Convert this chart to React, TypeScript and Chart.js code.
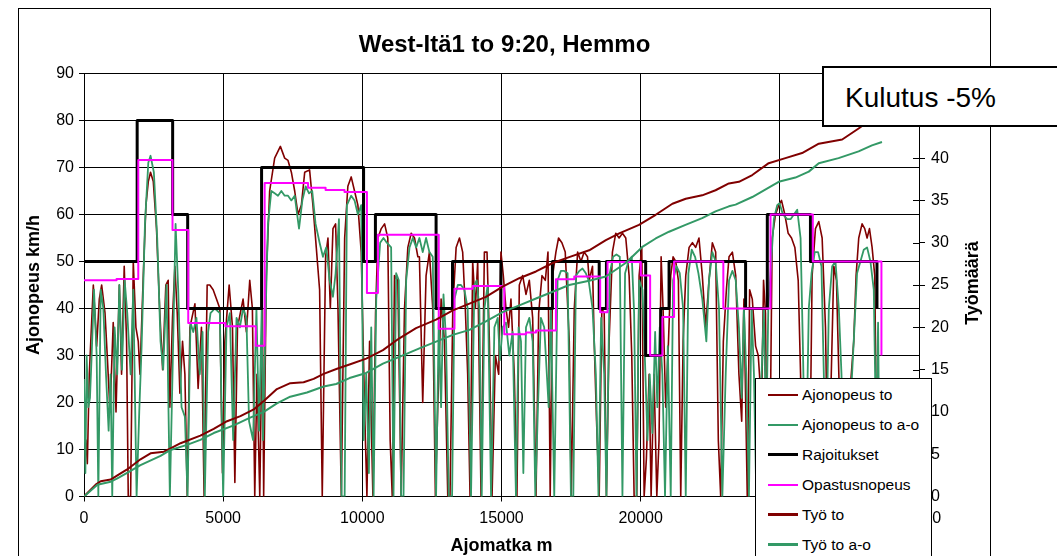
import React, { useEffect, useRef } from 'react';
import { Chart, registerables } from 'chart.js';

Chart.register(...registerables);

const FONT = '"Liberation Sans", Arial, Helvetica, sans-serif';

const chartTitle = 'West-Itä1 to 9:20, Hemmo';
const xTitle = 'Ajomatka m';
const yTitle = 'Ajonopeus km/h';
const y1Title = 'Työmäärä';
const noteText = 'Kulutus -5%';

const xMax = 30000;
const xStep = 5000;
const yMax = 90;
const yStep = 10;
const y1Max = 50;
const y1Step = 5;

const seriesNames = ['Ajonopeus to', 'Ajonopeus to a-o', 'Rajoitukset', 'Opastusnopeus', 'Työ to', 'Työ to a-o'];

// [distance m, speed km/h]
const ajonopeusTo: number[][] = [
  [0, 12], [70, 12], [120, 7], [190, 26], [335, 45], [455, 32], [550, 42], [635, 45], [755, 39], [835, 30], [935, 18],
  [1050, 37], [1150, 18], [1270, 45], [1350, 26], [1445, 49], [1530, 33], [1590, 0], [1675, 0], [1770, 50], [1865, 36],
  [1950, 33], [2010, 26], [2130, 47], [2225, 62], [2310, 67], [2390, 69], [2490, 67], [2605, 57], [2725, 39], [2825, 27],
  [2940, 45], [3025, 46], [3085, 19], [3180, 38], [3265, 49], [3350, 39], [3445, 22], [3540, 33], [3625, 26], [3710, 0],
  [3805, 36], [3985, 41], [4100, 23], [4220, 36], [4315, 0], [4425, 45], [4520, 45], [4640, 44], [4760, 42], [4880, 40],
  [4975, 5], [5060, 33], [5215, 45], [5335, 36], [5420, 3], [5515, 36], [5715, 42], [5835, 35], [5955, 46],
  [6050, 40], [6135, 0], [6215, 26], [6315, 0], [6410, 40], [6455, 0], [6550, 47], [6670, 65], [6850, 72], [7055, 74.5],
  [7210, 72], [7330, 71.5], [7450, 69], [7570, 65], [7690, 60], [7810, 62], [7930, 69], [8105, 69.5], [8225, 62], [8345, 53],
  [8465, 44], [8560, 0], [8680, 51], [8765, 55], [8850, 40], [8945, 57], [9040, 58], [9125, 40], [9245, 0], [9365, 55],
  [9480, 66], [9600, 68], [9720, 65], [9840, 62], [9960, 52], [10080, 19], [10165, 0], [10260, 33], [10380, 0], [10475, 39],
  [10560, 55], [10680, 57], [10800, 58], [10915, 55], [11000, 12], [11075, 0], [11155, 47], [11275, 46], [11395, 0],
  [11515, 40], [11635, 53], [11755, 56], [11875, 55], [11995, 51],
  [12050, 51], [12170, 20], [12290, 47], [12410, 52], [12530, 40], [12625, 0], [12710, 19], [12830, 42], [12950, 33],
  [13070, 0], [13150, 0], [13250, 40], [13370, 53], [13490, 55], [13605, 52], [13700, 40], [13785, 26], [13870, 0],
  [13965, 50], [14060, 40], [14145, 50], [14265, 0], [14385, 52], [14480, 52], [14565, 33], [14660, 0], [14780, 30],
  [14900, 26], [14980, 52], [15065, 47], [15160, 40], [15255, 36], [15340, 42], [15460, 26], [15555, 0], [15640, 45],
  [15760, 47], [15880, 43], [16000, 46], [16120, 38], [16240, 0], [16335, 39], [16455, 47], [16575, 46], [16670, 52],
  [16750, 0], [16835, 47], [16955, 52], [17050, 55], [17170, 54], [17290, 52], [17435, 33], [17505, 0], [17615, 40],
  [17735, 52], [17855, 50], [17970, 52], [18090, 51],
  [18150, 46], [18270, 49], [18330, 33], [18415, 16], [18510, 0], [18605, 40], [18690, 39], [18770, 0], [18865, 33],
  [18985, 52], [19105, 56], [19225, 55], [19345, 56], [19465, 55], [19585, 47], [19680, 30], [19765, 0], [19860, 0],
  [19945, 47], [20040, 53], [20125, 0], [20205, 8], [20305, 26], [20375, 0], [20480, 26], [20580, 0], [20660, 12],
  [20735, 51], [20805, 40], [20900, 19], [21000, 33], [21080, 47], [21165, 51], [21260, 50], [21355, 46], [21440, 0],
  [21525, 33], [21620, 47], [21740, 53], [21860, 54], [21975, 53], [22095, 55], [22215, 47], [22335, 36], [22455, 46],
  [22575, 54], [22695, 52], [22790, 12], [22875, 0], [22970, 33], [23080, 44], [23175, 51], [23295, 52], [23415, 47],
  [23530, 26], [23630, 16], [23710, 42], [23830, 0], [23915, 44], [24010, 42], [24130, 32], [24225, 30],
  [24345, 19], [24415, 46], [24485, 39], [24545, 0], [24630, 0], [24725, 55], [24845, 60], [24965, 62], [25060, 63],
  [25180, 60], [25300, 56], [25420, 55], [25540, 53], [25660, 46], [25745, 26], [25805, 0], [26065, 0], [26160, 47],
  [26280, 57], [26400, 58.5], [26520, 55], [26640, 36], [26735, 0], [26820, 19], [26940, 49], [27035, 46], [27120, 26],
  [27240, 0], [27360, 0], [27480, 19], [27655, 33], [27740, 47], [27835, 55], [27955, 58], [28050, 57], [28135, 55],
  [28220, 57], [28315, 53], [28410, 47], [28495, 0],
];

const ajonopeusToAo: number[][] = [
  [0, 25], [50, 5], [95, 30], [155, 19], [215, 21], [275, 30], [360, 44], [455, 30], [515, 0], [600, 44], [695, 40],
  [790, 26], [885, 14], [955, 26], [1015, 0], [1100, 36], [1195, 26], [1270, 45], [1365, 27], [1460, 46], [1555, 39],
  [1675, 26], [1770, 44], [1890, 0], [1985, 18], [2070, 32], [2190, 58], [2310, 71], [2390, 72.5], [2510, 69], [2630, 55],
  [2750, 33], [2845, 27], [2965, 45], [3085, 0], [3180, 26], [3290, 58], [3385, 44], [3505, 19], [3625, 17], [3720, 0],
  [3825, 37], [3925, 35], [4040, 38], [4160, 26], [4260, 35], [4340, 0], [4460, 35], [4545, 39], [4700, 40], [4880, 39],
  [5000, 0], [5120, 36], [5240, 39], [5360, 12], [5480, 38], [5600, 36], [5715, 40], [5835, 38], [5930, 16],
  [6075, 12], [6195, 40], [6290, 14], [6385, 40], [6430, 12], [6530, 40], [6610, 58], [6730, 65], [6850, 64.5], [6970, 64],
  [7090, 65], [7210, 64], [7330, 64], [7450, 63], [7570, 64], [7725, 57], [7845, 63], [7965, 66], [8085, 64.5], [8200, 65],
  [8320, 58], [8465, 54], [8585, 51], [8705, 53], [8825, 46], [8945, 42.5], [9040, 47.5], [9160, 59], [9255, 0], [9365, 0],
  [9445, 62], [9600, 64], [9720, 63], [9840, 60], [9960, 62], [10045, 12], [10140, 26], [10235, 5], [10320, 36], [10405, 0],
  [10500, 42], [10640, 54], [10760, 55], [10880, 54], [11035, 53], [11120, 0], [11215, 47.5], [11310, 46], [11395, 0],
  [11480, 0], [11575, 46], [11695, 53], [11815, 55], [11935, 53],
  [12050, 55], [12170, 52], [12290, 55], [12410, 52], [12530, 51], [12650, 0], [12745, 37], [12830, 19], [12915, 43],
  [13010, 33], [13105, 0], [13225, 0], [13310, 42], [13430, 45], [13545, 45], [13665, 44], [13785, 40], [13905, 0],
  [14025, 45], [14110, 46], [14205, 40], [14290, 0], [14385, 40], [14505, 45], [14625, 0], [14745, 36], [14865, 38],
  [14945, 29], [15040, 36], [15160, 37], [15280, 30], [15400, 35], [15520, 0], [15615, 36], [15700, 33], [15785, 5],
  [15880, 36], [16000, 38], [16120, 33], [16215, 0], [16310, 19], [16415, 38], [16535, 36], [16695, 19], [16775, 40],
  [16895, 0], [17015, 46], [17135, 48], [17255, 48], [17375, 47.5], [17495, 0], [17580, 0], [17675, 47], [17795, 48],
  [17910, 48.5], [18030, 47.5], [18130, 46],
  [18270, 40], [18390, 26], [18485, 0], [18580, 38], [18690, 26], [18770, 0], [18890, 47.5], [19010, 51], [19130, 51.5],
  [19250, 51], [19345, 0], [19440, 47.5], [19560, 50], [19680, 51], [19765, 39], [19850, 0], [19945, 46], [20065, 44],
  [20160, 28], [20245, 12], [20325, 26], [20420, 13.5], [20520, 35], [20600, 19], [20685, 36], [20780, 26], [20875, 0],
  [20975, 32], [21080, 0], [21165, 46], [21285, 49], [21405, 47.5], [21525, 40], [21620, 0], [21715, 47.5], [21835, 52.5],
  [21955, 51], [22075, 47.5], [22215, 42], [22360, 33], [22455, 46], [22575, 52], [22695, 50], [22815, 40], [22935, 0],
  [23055, 26], [23175, 46], [23295, 48], [23415, 46], [23530, 36], [23630, 21], [23710, 40], [23795, 26], [23890, 0],
  [23985, 40], [24070, 26], [24155, 0],
  [24345, 26], [24425, 40], [24510, 12], [24585, 40], [24665, 47.5], [24785, 59], [24905, 62], [24990, 62.4], [25110, 60],
  [25265, 59], [25385, 59], [25505, 60], [25625, 61], [25745, 55], [25825, 33], [25925, 0], [26040, 40], [26140, 47.5],
  [26255, 52], [26375, 52], [26495, 49], [26580, 26], [26640, 0], [26760, 40], [26880, 49], [27000, 50], [27120, 40],
  [27215, 26], [27300, 0], [27415, 5], [27535, 19], [27655, 33], [27775, 47.5], [27895, 50], [28015, 52.5], [28135, 53],
  [28255, 50], [28375, 44], [28460, 12], [28530, 37], [28590, 0],
];

// step start [distance m, limit km/h]
const rajoitukset: number[][] = [
  [0, 50], [1910, 80], [3185, 60], [3725, 40], [6380, 70], [10045, 50], [10470, 60], [12650, 40], [13240, 50],
  [14980, 40], [16830, 50], [18510, 40], [18770, 50], [20180, 30], [20720, 40], [21020, 50], [23770, 40], [24550, 60],
  [26100, 50], [28490, 40],
];

const opastusnopeus: number[][] = [
  [0, 46], [1170, 46.3], [1950, 71.6], [3180, 56.7], [3745, 36.9], [5080, 36.2], [6170, 32.1], [6490, 66.7],
  [8050, 65.7], [8680, 65.2], [9360, 64.8], [10165, 43.3], [10560, 55.7], [12745, 35.7], [13310, 44.2], [13965, 44.8],
  [15100, 34.5], [15880, 34.9], [16240, 35.3], [16955, 46.2], [17615, 46.8], [18545, 39.2], [18810, 49.9], [20005, 47],
  [20340, 30], [20780, 38.2], [21200, 50], [22970, 40], [24665, 60], [26185, 50], [28650, 30],
];

// [distance m, work]
const tyoTo: number[][] = [
  [0, 0], [420, 1.4], [600, 1.8], [960, 2.0], [1200, 2.5], [1550, 3.2], [2030, 4.4], [2390, 5.1], [2870, 5.3],
  [3110, 5.7], [3470, 6.3], [4180, 7.2], [4660, 8.0], [5140, 8.9], [5620, 9.5], [6100, 10.3], [6460, 11.3], [6930, 12.7],
  [7410, 13.4], [7890, 13.5], [8250, 13.9], [8610, 14.5], [9090, 15.1], [9540, 15.6], [10140, 16.3], [10740, 17.3],
  [11330, 18.7], [11930, 19.9], [12650, 20.9], [13250, 22.0], [13850, 22.8], [14440, 23.6], [15040, 24.8], [15640, 25.8],
  [16240, 26.6], [16840, 27.6], [17430, 28.3], [18150, 29.1], [18750, 30.3], [19230, 31.1], [19940, 32.1], [20540, 33.3],
  [21140, 34.6], [21620, 35.2], [22210, 35.6], [22690, 36.2], [23170, 37.0], [23530, 37.2], [24010, 38.0], [24600, 39.4],
  [25200, 40.0], [25800, 40.6], [26400, 41.7], [27240, 42.2], [27830, 43.5], [28080, 44.1], [28500, 45.2],
];

const tyoToAo: number[][] = [
  [0, 0], [480, 1.4], [960, 1.75], [1200, 2.15], [1550, 2.8], [2030, 3.7], [2750, 4.8], [3110, 5.5], [3700, 6.1],
  [4180, 6.7], [4660, 7.5], [5380, 8.4], [5950, 9.3], [6460, 10.0], [6930, 11.0], [7410, 11.8], [8010, 12.3], [8610, 13.0],
  [9060, 13.3], [9540, 14.0], [10140, 14.6], [10740, 15.7], [11330, 16.5], [12050, 17.5], [12650, 18.3], [13250, 19.1],
  [13850, 19.7], [14440, 20.7], [15040, 21.8], [15640, 22.6], [16240, 23.4], [16840, 24.2], [17430, 25.0], [18150, 25.5],
  [18750, 26.0], [19460, 27.6], [20060, 29.5], [20540, 30.5], [21020, 31.3], [21610, 32.1], [22210, 32.9], [22690, 33.7],
  [23170, 34.3], [23410, 34.5], [24010, 35.4], [24600, 36.5], [24960, 37.2], [25560, 37.7], [26040, 38.4], [26400, 39.4],
  [27110, 40.0], [27830, 40.8], [28310, 41.5], [28670, 41.9],
];

const seriesColors = ['#800000', '#339966', '#000000', '#FF00FF', '#800000', '#339966'];
const seriesWidths = [1.6, 1.8, 3, 2, 2, 2];
const legendWidths = [2, 2, 3.5, 2, 3, 3];

const toXY = (arr: number[][]) => arr.map(([x, y]) => ({ x, y }));

const PLOT_LEFT = 84;
const PLOT_RIGHT = 919;
const PLOT_TOP = 73.5;
const PLOT_BOTTOM = 496.5;
const W = 1057;
const H = 556;

const crossTicks = {
  id: 'crossTicks',
  afterDraw(chart: any) {
    const s = chart.scales.y1;
    const ctx = chart.ctx;
    const r = chart.chartArea.right;
    ctx.save();
    ctx.strokeStyle = '#000';
    ctx.lineWidth = 1;
    s.ticks.forEach((t: any) => {
      const y = Math.round(s.getPixelForValue(t.value)) + 0.5;
      ctx.beginPath();
      ctx.moveTo(r - 6, y);
      ctx.lineTo(r, y);
      ctx.stroke();
    });
    ctx.restore();
  },
};

export default function App() {
  const ref = useRef<HTMLCanvasElement>(null);

  useEffect(() => {
    if (!ref.current) return;
    const tickFont = { family: FONT, size: 16 };
    const plain = (v: any) => String(v);
    const lineDs = (i: number, data: number[][], axis: string, order: number, stepped = false) => ({
      label: seriesNames[i],
      data: toXY(data),
      borderColor: seriesColors[i],
      backgroundColor: seriesColors[i],
      borderWidth: seriesWidths[i],
      pointRadius: 0,
      tension: 0,
      fill: false,
      stepped: stepped ? 'before' : false,
      yAxisID: axis,
      order,
      borderJoinStyle: 'round',
    });
    const chart = new Chart(ref.current, {
      type: 'line',
      data: {
        datasets: [
          lineDs(0, ajonopeusTo, 'y', 6),
          lineDs(1, ajonopeusToAo, 'y', 5),
          lineDs(2, rajoitukset, 'y', 4, true),
          lineDs(3, opastusnopeus, 'y', 3, true),
          lineDs(4, tyoTo, 'y1', 2),
          lineDs(5, tyoToAo, 'y1', 1),
        ] as any,
      },
      options: {
        responsive: false,
        animation: false,
        events: [],
        layout: { padding: { top: PLOT_TOP, left: 0, right: 0, bottom: 0 } },
        plugins: { legend: { display: false }, title: { display: false }, tooltip: { enabled: false } },
        scales: {
          x: {
            type: 'linear',
            min: 0,
            max: xMax,
            ticks: { stepSize: xStep, font: tickFont, color: '#000', padding: 7, maxRotation: 0, autoSkip: false, callback: plain },
            grid: { color: '#000', lineWidth: 1, tickLength: 5 },
            border: { color: '#000', width: 1 },
            afterFit: (s: any) => { s.height = H - PLOT_BOTTOM; },
          },
          y: {
            type: 'linear',
            position: 'left',
            min: 0,
            max: yMax,
            ticks: { stepSize: yStep, font: tickFont, color: '#000', padding: 5, callback: plain },
            grid: { color: '#000', lineWidth: 1, tickLength: 5 },
            border: { color: '#000', width: 1 },
            afterFit: (s: any) => { s.width = PLOT_LEFT; },
          },
          y1: {
            type: 'linear',
            position: 'right',
            min: 0,
            max: y1Max,
            ticks: { stepSize: y1Step, font: tickFont, color: '#000', padding: 6, callback: plain },
            grid: { drawOnChartArea: false, color: '#000', lineWidth: 1, tickLength: 6 },
            border: { color: '#000', width: 1 },
            afterFit: (s: any) => { s.width = W - PLOT_RIGHT; },
          },
        },
      } as any,
      plugins: [crossTicks],
    });
    return () => chart.destroy();
  }, []);

  const rowCenters = [16, 46, 75.5, 105.5, 135.5, 165.5];

  return (
    <div style={{ position: 'absolute', left: 0, top: 0, width: W, height: H, overflow: 'hidden', background: '#fff', fontFamily: FONT, color: '#000' }}>
      <div style={{ position: 'absolute', left: 18, top: 8, width: 973, height: 620, border: '1px solid #000', boxSizing: 'border-box' }} />
      <canvas ref={ref} width={W} height={H} style={{ position: 'absolute', left: 0, top: 0, width: W, height: H }} />
      <div style={{ position: 'absolute', left: 18, width: 973, top: 30, lineHeight: '28px', fontSize: 24, fontWeight: 'bold', textAlign: 'center', whiteSpace: 'nowrap' }}>{chartTitle}</div>
      <div style={{ position: 'absolute', left: PLOT_LEFT, width: PLOT_RIGHT - PLOT_LEFT, top: 534, lineHeight: '22px', fontSize: 18, fontWeight: 'bold', textAlign: 'center', whiteSpace: 'nowrap' }}>{xTitle}</div>
      <div style={{ position: 'absolute', left: 33 - 150, top: 285 - 11, width: 300, height: 22, lineHeight: '22px', fontSize: 18, fontWeight: 'bold', textAlign: 'center', whiteSpace: 'nowrap', transform: 'rotate(-90deg)' }}>{yTitle}</div>
      <div style={{ position: 'absolute', left: 972 - 150, top: 283 - 11, width: 300, height: 22, lineHeight: '22px', fontSize: 18, fontWeight: 'bold', textAlign: 'center', whiteSpace: 'nowrap', transform: 'rotate(-90deg)' }}>{y1Title}</div>
      <div style={{ position: 'absolute', left: 755, top: 378, width: 177, height: 220, border: '1px solid #000', boxSizing: 'border-box', background: '#fff' }}>
        {seriesNames.map((n, i) => (
          <div key={n} style={{ position: 'absolute', left: 0, top: rowCenters[i] - 15, height: 30, width: 175 }}>
            <div style={{ position: 'absolute', left: 12, width: 30, top: 15 - legendWidths[i] / 2, height: legendWidths[i], background: seriesColors[i] }} />
            <div style={{ position: 'absolute', left: 46, top: 0, height: 30, lineHeight: '30px', fontSize: 15.5, whiteSpace: 'nowrap' }}>{n}</div>
          </div>
        ))}
      </div>
      <div style={{ position: 'absolute', left: 822, top: 66, width: 300, height: 61, border: '2px solid #000', boxSizing: 'border-box', background: '#fff' }}>
        <div style={{ position: 'absolute', left: 21, top: 16, lineHeight: '28px', fontSize: 28, whiteSpace: 'nowrap' }}>{noteText}</div>
      </div>
    </div>
  );
}
